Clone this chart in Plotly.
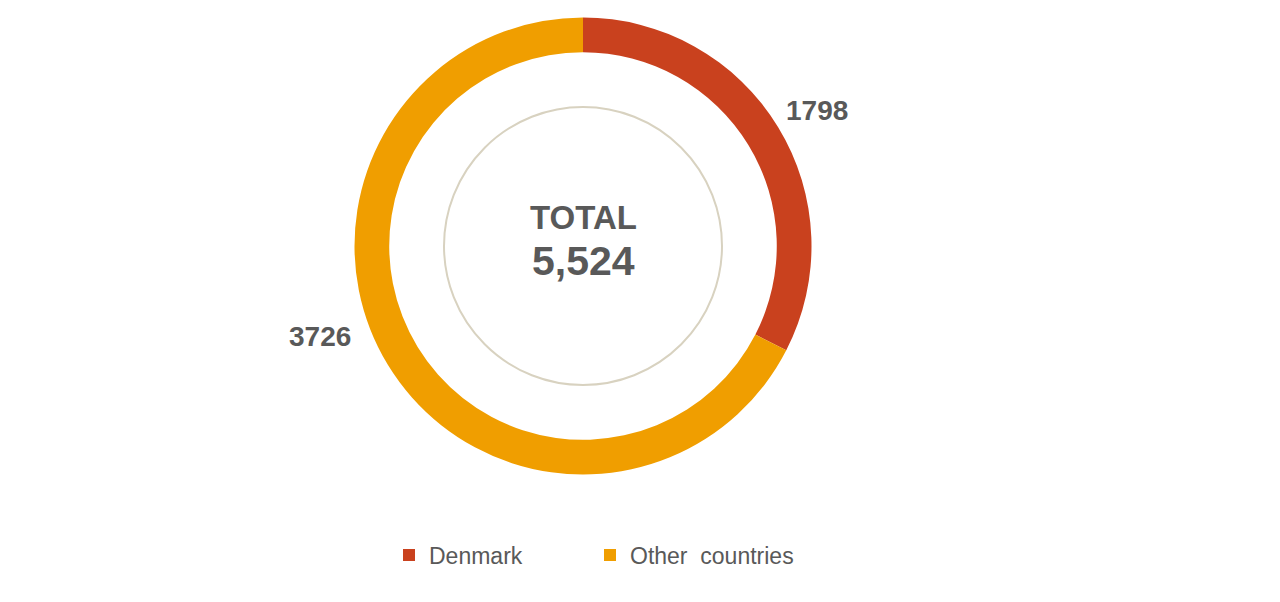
import plotly.graph_objects as go

categories = ["Denmark", "Other  countries"]
values = [1798, 3726]
colors = ["#C9411E", "#F09E00"]
total_label = "TOTAL"
# label anchor points (pixels) for the value labels
label_pos = [(809, 103), (312, 328)]

W, H = 1280, 602
cx, cy, R = 575, 238, 228.5
total = sum(values)

fig = go.Figure()
fig.add_trace(go.Pie(
    labels=categories,
    values=values,
    marker=dict(colors=colors, line=dict(width=0)),
    hole=0.848,
    sort=False,
    direction="clockwise",
    rotation=0,
    textinfo="none",
    domain=dict(x=[(cx - R) / W, (cx + R) / W], y=[1 - (cy + R) / H, 1 - (cy - R) / H]),
    showlegend=True,
    hoverinfo="label+value",
))

# invisible spacer entry so the last legend label is not clipped
fig.add_trace(go.Scatter(x=[None], y=[None], mode="markers", name=" ",
                         marker=dict(color="rgba(0,0,0,0)", size=1),
                         showlegend=True, hoverinfo="skip"))

for v, (px, py) in zip(values, label_pos):
    fig.add_annotation(x=px / W, y=1 - py / H, xref="paper", yref="paper",
                       xanchor="center", yanchor="middle",
                       text="<b>" + str(v) + "</b>", showarrow=False,
                       font=dict(family="Liberation Sans", size=28, color="#595959"))

fig.add_shape(type="circle", xref="paper", yref="paper",
              xsizemode="pixel", ysizemode="pixel",
              xanchor=cx / W, yanchor=1 - cy / H,
              x0=-139, x1=139, y0=-139, y1=139,
              line=dict(color="#D8D2C0", width=2))

fig.add_annotation(x=cx / W, y=1 - 210 / H, xref="paper", yref="paper",
                   xanchor="center", yanchor="middle",
                   text="<b>" + total_label + "</b>", showarrow=False,
                   font=dict(family="Liberation Sans", size=33, color="#595959"))
fig.add_annotation(x=cx / W, y=1 - 253 / H, xref="paper", yref="paper",
                   xanchor="center", yanchor="middle",
                   text="<b>" + f"{total:,}" + "</b>", showarrow=False,
                   font=dict(family="Liberation Sans", size=41, color="#595959"))

fig.update_layout(
    width=W, height=H,
    margin=dict(l=0, r=0, t=0, b=0),
    paper_bgcolor="white", plot_bgcolor="white",
    xaxis=dict(visible=False), yaxis=dict(visible=False),
    legend=dict(orientation="h", x=381 / W, xanchor="left", y=1 - 547 / H, yanchor="middle",
                font=dict(family="Liberation Sans", size=23, color="#595959"),
                entrywidth=156, itemclick=False, traceorder="normal"),
)

fig.write_html("out.html")
